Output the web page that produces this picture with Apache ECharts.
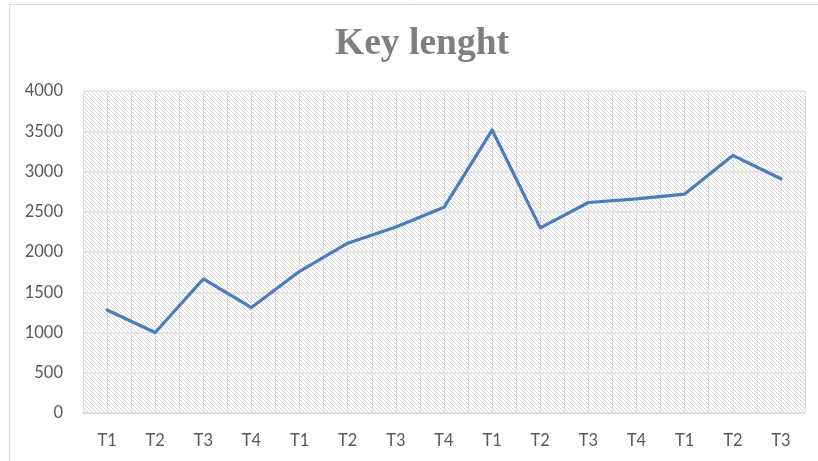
<!DOCTYPE html>
<html>
<head>
<meta charset="utf-8">
<script src="https://cdn.jsdelivr.net/npm/echarts@6/dist/echarts.min.js"></script>
<style>
  html, body { margin: 0; padding: 0; background: #ffffff; }
  #chart { width: 818px; height: 461px; }
</style>
</head>
<body>
<div id="chart"></div>
<script>
// Quarter labels along the horizontal axis
const quarters = ['T1', 'T2', 'T3', 'T4', 'T1', 'T2', 'T3', 'T4', 'T1', 'T2', 'T3', 'T4', 'T1', 'T2', 'T3'];
// Key length per quarter
const keyLength = [1280, 1000, 1665, 1310, 1760, 2110, 2310, 2555, 3515, 2300, 2615, 2660, 2720, 3200, 2910];
// Value axis ticks
const yTicks = [0, 500, 1000, 1500, 2000, 2500, 3000, 3500, 4000];

// Diagonal hatch tile for the plot background
function hatchTile() {
  const s = 4;
  const c = document.createElement('canvas');
  c.width = s; c.height = s;
  const g = c.getContext('2d');
  g.fillStyle = '#ffffff';
  g.fillRect(0, 0, s, s);
  g.strokeStyle = '#d6d6d6';
  g.lineWidth = 1;
  g.beginPath();
  g.moveTo(-1, -1); g.lineTo(s + 1, s + 1);
  g.moveTo(-1, s - 1); g.lineTo(1, s + 1);
  g.moveTo(s - 1, -1); g.lineTo(s + 1, 1);
  g.stroke();
  return c;
}

const chart = echarts.init(document.getElementById('chart'));
const labelFont = { fontFamily: 'Lato', fontSize: 16.5, color: '#595959' };

chart.setOption({
  animation: false,
  title: {
    text: 'Key lenght',
    left: 417,
    top: 20,
    textAlign: 'center',
    textStyle: { fontFamily: 'Liberation Serif', fontWeight: 'bold', fontSize: 37.5, color: '#7f7f7f' }
  },
  graphic: [{
    type: 'rect',
    shape: { x: 9.5, y: 4.5, width: 840, height: 480 },
    style: { fill: 'none', stroke: '#d9d9d9', lineWidth: 1 },
    silent: true
  }],
  grid: {
    left: 83, right: 13, top: 91, bottom: 48,
    show: true,
    borderWidth: 0,
    backgroundColor: { image: hatchTile(), repeat: 'repeat' }
  },
  xAxis: [{
    type: 'category',
    data: quarters,
    boundaryGap: true,
    axisLine: { show: true, lineStyle: { color: '#d9d9d9', width: 1 } },
    axisTick: { show: false },
    axisLabel: Object.assign({ margin: 19, interval: 0 }, labelFont),
    splitLine: { show: false }
  }, {
    type: 'value',
    min: 0, max: quarters.length * 2, interval: 1,
    position: 'top',
    axisLine: { show: false },
    axisTick: { show: false },
    axisLabel: { show: false },
    splitLine: { show: true, lineStyle: { color: '#dedede', width: 1 } }
  }],
  yAxis: {
    type: 'value',
    min: yTicks[0], max: yTicks[yTicks.length - 1], interval: 500,
    axisLine: { show: false },
    axisTick: { show: false },
    axisLabel: Object.assign({ margin: 20, formatter: v => String(v) }, labelFont),
    splitLine: { show: true, lineStyle: { color: '#dedede', width: 1.5 } }
  },
  series: [{
    type: 'line',
    data: keyLength,
    xAxisIndex: 0,
    symbol: 'none',
    lineStyle: { color: '#4a7dbb', width: 3.2, join: 'round', cap: 'round' },
    z: 5
  }]
});
</script>
</body>
</html>
